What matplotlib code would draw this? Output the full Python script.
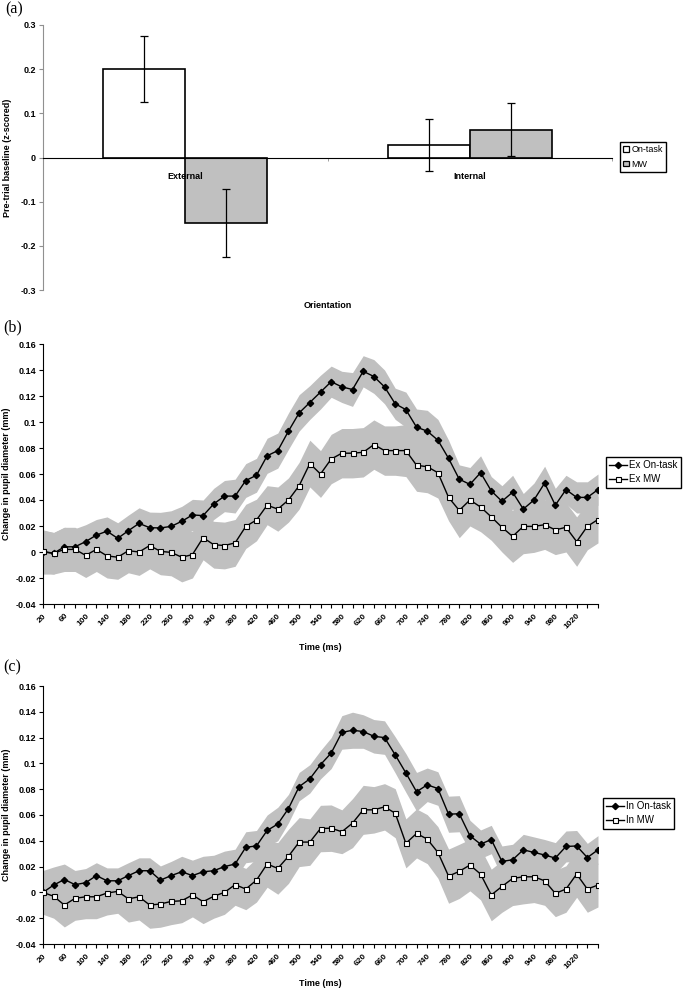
import numpy as np
import matplotlib
matplotlib.use("Agg")
import matplotlib.pyplot as plt
from matplotlib.lines import Line2D
from matplotlib.patches import Patch

plt.rcParams["font.family"] = ["Liberation Sans", "DejaVu Sans"]
plt.rcParams["axes.unicode_minus"] = False

# ---------------- panel (a) data ----------------
orient = ["External", "Internal"]
base_on = [0.200, 0.029]
base_on_err = [0.075, 0.059]
base_mw = [-0.148, 0.063]
base_mw_err = [0.077, 0.060]

# ---------------- panels (b), (c) data ----------------
time_ms = list(range(20, 1061, 20))  # 53 samples

ex_on = [0.000, -0.001, 0.004, 0.004, 0.008, 0.013, 0.016, 0.0105, 0.0164, 0.022,
         0.0187, 0.0185, 0.0197, 0.0236, 0.0285, 0.028, 0.037, 0.043, 0.043, 0.055,
         0.059, 0.074, 0.078, 0.093, 0.107, 0.115, 0.123, 0.131, 0.127, 0.125,
         0.139, 0.135, 0.127, 0.114, 0.1095, 0.096, 0.093, 0.086, 0.072, 0.056,
         0.052, 0.061, 0.047, 0.039, 0.046, 0.033, 0.040, 0.053, 0.036, 0.048,
         0.042, 0.042, 0.048]
ex_on_se = [0.017, 0.016, 0.015, 0.014, 0.013, 0.012, 0.011, 0.012, 0.012, 0.012,
            0.012, 0.012, 0.012, 0.0115, 0.012, 0.012, 0.012, 0.012, 0.013, 0.013,
            0.013, 0.0135, 0.0135, 0.014, 0.014, 0.013, 0.013, 0.012, 0.012, 0.013,
            0.012, 0.013, 0.013, 0.012, 0.0135, 0.014, 0.016, 0.016, 0.014, 0.011,
            0.013, 0.013, 0.011, 0.012, 0.013, 0.012, 0.013, 0.013, 0.013, 0.011,
            0.012, 0.012, 0.012]
ex_mw = [0.0005, -0.001, 0.002, 0.002, -0.0026, 0.002, -0.003, -0.004, 0.001, 0.000,
         0.005, 0.0005, -0.0003, -0.004, -0.002, 0.011, 0.0056, 0.005, 0.007, 0.0197,
         0.0246, 0.036, 0.033, 0.040, 0.051, 0.068, 0.060, 0.0715, 0.076, 0.076,
         0.0767, 0.0826, 0.078, 0.078, 0.078, 0.0667, 0.0656, 0.061, 0.042, 0.032,
         0.040, 0.0346, 0.027, 0.019, 0.012, 0.0197, 0.0197, 0.021, 0.017, 0.019,
         0.008, 0.0197, 0.025]
ex_mw_se = [0.016, 0.016, 0.017, 0.017, 0.017, 0.017, 0.017, 0.017, 0.017, 0.018,
            0.018, 0.018, 0.018, 0.019, 0.018, 0.017, 0.018, 0.018, 0.018, 0.017,
            0.016, 0.015, 0.017, 0.017, 0.018, 0.018, 0.018, 0.019, 0.019, 0.019,
            0.019, 0.019, 0.019, 0.019, 0.020, 0.020, 0.020, 0.0195, 0.018, 0.021,
            0.020, 0.019, 0.018, 0.019, 0.020, 0.021, 0.020, 0.019, 0.019, 0.019,
            0.019, 0.018, 0.018]

in_on = [0.000, 0.0057, 0.010, 0.006, 0.0075, 0.013, 0.009, 0.009, 0.013, 0.0168,
         0.0168, 0.0095, 0.013, 0.016, 0.013, 0.016, 0.0168, 0.020, 0.022, 0.035,
         0.036, 0.048, 0.053, 0.065, 0.082, 0.088, 0.099, 0.108, 0.124, 0.1257,
         0.1247, 0.121, 0.120, 0.1066, 0.0926, 0.078, 0.0834, 0.0805, 0.0606, 0.061,
         0.0439, 0.0374, 0.041, 0.024, 0.0253, 0.033, 0.031, 0.029, 0.0266, 0.0356,
         0.036, 0.027, 0.033]
in_on_se = [0.017, 0.014, 0.012, 0.011, 0.011, 0.010, 0.010, 0.010, 0.010, 0.010,
            0.010, 0.011, 0.011, 0.012, 0.012, 0.012, 0.012, 0.012, 0.0115, 0.012,
            0.012, 0.012, 0.013, 0.011, 0.011, 0.011, 0.011, 0.012, 0.013, 0.014,
            0.013, 0.013, 0.013, 0.014, 0.015, 0.015, 0.013, 0.013, 0.014, 0.014,
            0.012, 0.011, 0.011, 0.012, 0.012, 0.012, 0.012, 0.012, 0.012, 0.012,
            0.012, 0.011, 0.011]
in_mw = [0.000, -0.003, -0.0098, -0.0046, -0.0034, -0.0034, -0.0005, 0.0008, -0.005, -0.0034,
         -0.0098, -0.009, -0.007, -0.0065, -0.002, -0.0072, -0.003, 0.000, 0.006, 0.0026,
         0.0095, 0.022, 0.0186, 0.028, 0.039, 0.039, 0.0495, 0.0498, 0.047, 0.0537,
         0.064, 0.064, 0.0663, 0.0614, 0.038, 0.0457, 0.0413, 0.031, 0.0126, 0.0163,
         0.0212, 0.0142, -0.002, 0.0046, 0.0108, 0.0121, 0.0121, 0.009, -0.0008, 0.0026,
         0.0142, 0.0026, 0.0057]
in_mw_se = [0.017, 0.017, 0.017, 0.017, 0.017, 0.017, 0.017, 0.017, 0.018, 0.018,
            0.018, 0.018, 0.018, 0.017, 0.017, 0.017, 0.017, 0.017, 0.016, 0.016,
            0.017, 0.018, 0.020, 0.021, 0.019, 0.018, 0.018, 0.018, 0.017, 0.019,
            0.019, 0.018, 0.018, 0.019, 0.019, 0.019, 0.019, 0.020, 0.021, 0.021,
            0.020, 0.020, 0.020, 0.020, 0.021, 0.021, 0.020, 0.019, 0.018, 0.018,
            0.018, 0.018, 0.017]

BAND = "#c0c0c0"
W, H = 685, 991


def fig_rect(left, top, right, bottom):
    return [left / W, 1 - bottom / H, (right - left) / W, (bottom - top) / H]


fig = plt.figure(figsize=(W / 100, H / 100), dpi=100)

# ---------------- (a) ----------------
ax = fig.add_axes(fig_rect(43, 25, 612, 290))
xc = np.arange(len(orient))
bw = 0.288
ax.bar(xc - bw / 2, base_on, bw, color="white", edgecolor="black", linewidth=1.2, zorder=2)
ax.bar(xc + bw / 2, base_mw, bw, color=BAND, edgecolor="black", linewidth=1.2, zorder=2)
ax.errorbar(xc - bw / 2, base_on, yerr=base_on_err, fmt="none", ecolor="black",
            elinewidth=0.9, capsize=3, capthick=0.9, zorder=3)
ax.errorbar(xc + bw / 2, base_mw, yerr=base_mw_err, fmt="none", ecolor="black",
            elinewidth=0.9, capsize=3, capthick=0.9, zorder=3)
ax.set_xlim(-0.5, 1.5)
ax.set_ylim(-0.3, 0.3)
yt = [0.3, 0.2, 0.1, 0, -0.1, -0.2, -0.3]
ax.set_yticks(yt)
ax.set_yticklabels(["0.3", "0.2", "0.1", "0", "-0.1", "-0.2", "-0.3"], fontsize=6.5, fontweight="bold")
ax.spines["top"].set_visible(False)
ax.spines["right"].set_visible(False)
ax.spines["left"].set_color("#909090")
ax.spines["bottom"].set_position(("data", 0))
ax.spines["bottom"].set_linewidth(0.8)
ax.set_xticks([])
ax.set_xticks([0.5, 1.5], minor=True)
ax.tick_params(axis="x", which="minor", length=2, direction="out", color="#909090")
ax.tick_params(axis="y", length=3, width=0.8, color="#909090", pad=2)
# category names sit on top of the bars, just under the zero line
for i, name in enumerate(orient):
    ax.annotate(name, xy=(xc[i], 0), xytext=(0, -14), textcoords="offset points",
                ha="center", va="center", fontsize=6.5, fontweight="bold", zorder=6)
ax.set_ylabel("Pre-trial baseline (z-scored)", fontsize=6.5, fontweight="bold", labelpad=6)
fig.text(328 / W, 1 - 306 / H, "Orientation", ha="center", va="center", fontsize=6.5, fontweight="bold")
fig.text(5 / W, 1 - 9 / H, "(a)", ha="left", va="center", fontsize=11.5, family="Liberation Serif")
fig.legend(handles=[Patch(facecolor="white", edgecolor="black", linewidth=0.9, label="On-task"),
                    Patch(facecolor=BAND, edgecolor="black", linewidth=0.9, label="MW")],
           loc="upper left", bbox_to_anchor=(620 / W, 1 - 142 / H), fontsize=6.5,
           frameon=True, fancybox=False, edgecolor="black", framealpha=1,
           handlelength=0.6, handleheight=0.6, handletextpad=0.3, borderpad=0.35,
           labelspacing=0.6, borderaxespad=0)


def pupil_panel(rect, on, on_se, mw, mw_se, lab_on, lab_mw, tag, tag_y, leg_xy, time_y):
    ax = fig.add_axes(rect)
    x = np.arange(len(time_ms))
    on = np.array(on); on_se = np.array(on_se)
    mw = np.array(mw); mw_se = np.array(mw_se)
    ax.fill_between(x, on - on_se, on + on_se, color=BAND, lw=0, zorder=1)
    ax.fill_between(x, mw - mw_se, mw + mw_se, color=BAND, lw=0, zorder=1)
    ax.plot(x, on, color="black", lw=1.0, marker="D", ms=3.2, mfc="black", mec="black", zorder=3)
    ax.plot(x, mw, color="black", lw=1.0, marker="s", ms=3.6, mfc="white", mec="black", mew=0.8, zorder=3)
    ax.set_xlim(0, len(x) - 1)
    ax.set_ylim(-0.04, 0.16)
    yv = [0.16, 0.14, 0.12, 0.1, 0.08, 0.06, 0.04, 0.02, 0, -0.02, -0.04]
    ax.set_yticks(yv)
    ax.set_yticklabels(["0.16", "0.14", "0.12", "0.1", "0.08", "0.06", "0.04", "0.02", "0",
                        "-0.02", "-0.04"], fontsize=6.5, fontweight="bold")
    ax.set_xticks(x, minor=True)
    ax.set_xticks(x[0:51:2])
    ax.set_xticklabels([str(t) for t in time_ms[0:51:2]], rotation=45, ha="right",
                       rotation_mode="anchor", fontsize=6, fontweight="bold")
    ax.tick_params(axis="x", which="both", length=3, width=0.8, pad=3)
    ax.tick_params(axis="y", length=3, width=0.8, pad=2)
    ax.spines["top"].set_visible(False)
    ax.spines["right"].set_visible(False)
    ax.set_ylabel("Change in pupil diameter (mm)", fontsize=6.5, fontweight="bold", labelpad=3)
    fig.text(320 / W, 1 - time_y / H, "Time (ms)", ha="center", va="center", fontsize=6.5, fontweight="bold")
    fig.text(3 / W, 1 - tag_y / H, tag, ha="left", va="center", fontsize=11.5, family="Liberation Serif")
    handles = [Line2D([], [], color="black", lw=1.0, marker="D", ms=3.2, mfc="black", label=lab_on),
               Line2D([], [], color="black", lw=1.0, marker="s", ms=3.6, mfc="white", mew=0.8, label=lab_mw)]
    fig.legend(handles=handles, loc="upper left", bbox_to_anchor=leg_xy, fontsize=7,
               frameon=True, fancybox=False, edgecolor="black", framealpha=1,
               handlelength=1.8, handletextpad=0.2, borderpad=0.35, labelspacing=0.4,
               borderaxespad=0)
    return ax


pupil_panel(fig_rect(43, 344, 598, 604), ex_on, ex_on_se, ex_mw, ex_mw_se,
            "Ex On-task", "Ex MW", "(b)", 327, (606 / W, 1 - 457 / H), 648)
pupil_panel(fig_rect(43, 686, 598, 944), in_on, in_on_se, in_mw, in_mw_se,
            "In On-task", "In MW", "(c)", 667, (603 / W, 1 - 798 / H), 984)

fig.savefig("out.png", dpi=100)
